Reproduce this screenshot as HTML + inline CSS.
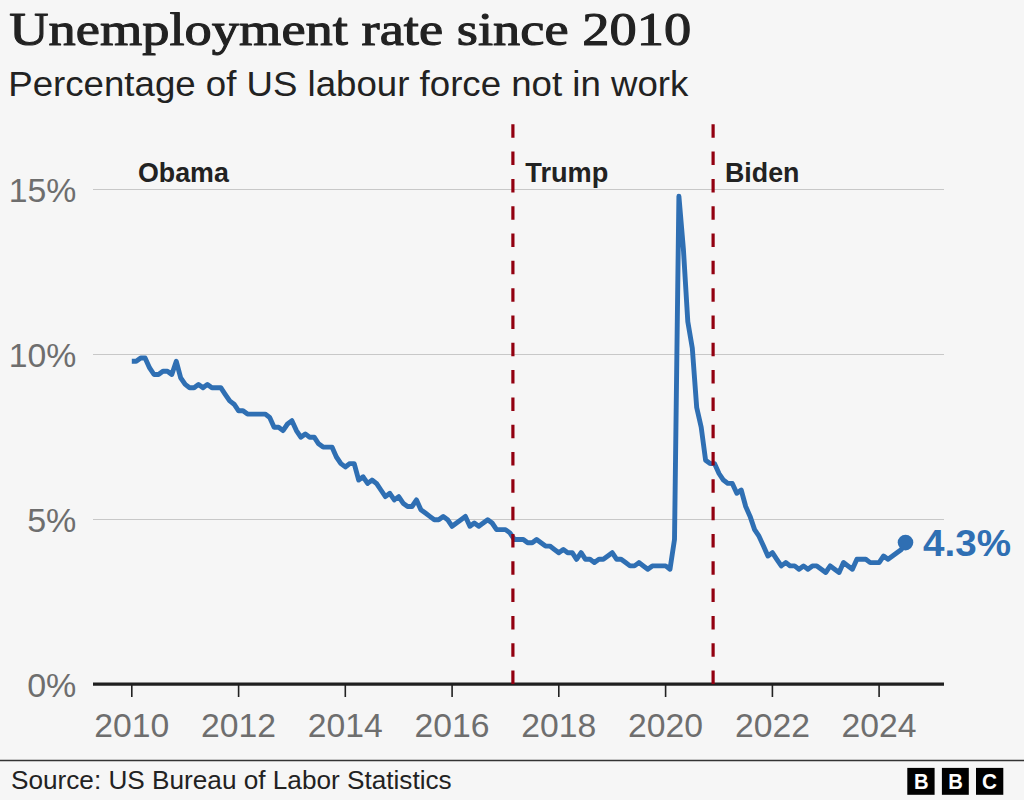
<!DOCTYPE html>
<html><head><meta charset="utf-8"><style>
html,body{margin:0;padding:0;background:#f6f6f6;}
svg{display:block;}
.sans{font-family:"Liberation Sans",sans-serif;}
.serif{font-family:"Liberation Serif",serif;}
</style></head><body>
<svg width="1024" height="800" viewBox="0 0 1024 800">
<rect x="0" y="0" width="1024" height="800" fill="#f6f6f6"/>
<text class="serif" x="9.2" y="45.2" font-size="46.5" font-weight="normal" fill="#222222" stroke="#222222" stroke-width="1.05" stroke-linejoin="round" textLength="682" lengthAdjust="spacingAndGlyphs">Unemployment rate since 2010</text>
<text class="sans" x="8.3" y="95.8" font-size="35.5" fill="#222222" textLength="680" lengthAdjust="spacingAndGlyphs">Percentage of US labour force not in work</text>
<g stroke="#c8c8c8" stroke-width="1.1">
<line x1="93" y1="189.5" x2="944" y2="189.5"/>
<line x1="93" y1="354.5" x2="944" y2="354.5"/>
<line x1="93" y1="519.5" x2="944" y2="519.5"/>
</g>
<g class="sans" font-size="33" fill="#6e6e6e" text-anchor="end">
<text x="76.4" y="201.8" textLength="67.6" lengthAdjust="spacingAndGlyphs">15%</text>
<text x="76.4" y="366.8" textLength="67.6" lengthAdjust="spacingAndGlyphs">10%</text>
<text x="76.4" y="531.8" textLength="49.2" lengthAdjust="spacingAndGlyphs">5%</text>
<text x="76.4" y="696.8" textLength="49.2" lengthAdjust="spacingAndGlyphs">0%</text>
</g>
<g stroke="#222222" stroke-width="1.6">
<line x1="131.8" y1="684" x2="131.8" y2="697"/>
<line x1="238.6" y1="684" x2="238.6" y2="697"/>
<line x1="345.3" y1="684" x2="345.3" y2="697"/>
<line x1="452.1" y1="684" x2="452.1" y2="697"/>
<line x1="558.8" y1="684" x2="558.8" y2="697"/>
<line x1="665.6" y1="684" x2="665.6" y2="697"/>
<line x1="772.4" y1="684" x2="772.4" y2="697"/>
<line x1="879.1" y1="684" x2="879.1" y2="697"/>
</g>
<g class="sans" font-size="33" fill="#6e6e6e" text-anchor="middle">
<text x="131.8" y="736.6" textLength="75" lengthAdjust="spacingAndGlyphs">2010</text>
<text x="238.6" y="736.6" textLength="75" lengthAdjust="spacingAndGlyphs">2012</text>
<text x="345.3" y="736.6" textLength="75" lengthAdjust="spacingAndGlyphs">2014</text>
<text x="452.1" y="736.6" textLength="75" lengthAdjust="spacingAndGlyphs">2016</text>
<text x="558.8" y="736.6" textLength="75" lengthAdjust="spacingAndGlyphs">2018</text>
<text x="665.6" y="736.6" textLength="75" lengthAdjust="spacingAndGlyphs">2020</text>
<text x="772.4" y="736.6" textLength="75" lengthAdjust="spacingAndGlyphs">2022</text>
<text x="879.1" y="736.6" textLength="75" lengthAdjust="spacingAndGlyphs">2024</text>
</g>
<g class="sans" font-size="27" font-weight="bold" fill="#222222">
<text x="138" y="181.7" textLength="90.8" lengthAdjust="spacingAndGlyphs">Obama</text>
<text x="525.3" y="182" textLength="83" lengthAdjust="spacingAndGlyphs">Trump</text>
<text x="725" y="181.7" textLength="74.4" lengthAdjust="spacingAndGlyphs">Biden</text>
</g>
<line x1="93" y1="684.2" x2="944" y2="684.2" stroke="#1f1f1f" stroke-width="3.2"/>
<path d="M131.8,361.3 L136.2,361.3 L140.7,358.0 L145.1,358.0 L149.6,367.9 L154.0,374.5 L158.5,374.5 L162.9,371.2 L167.4,371.2 L171.8,374.5 L176.3,361.3 L180.7,377.8 L185.2,384.4 L189.6,387.7 L194.1,387.7 L198.5,384.4 L203.0,387.7 L207.4,384.4 L211.9,387.7 L216.3,387.7 L220.8,387.7 L225.2,394.3 L229.7,400.9 L234.1,404.2 L238.6,410.8 L243.0,410.8 L247.5,414.1 L251.9,414.1 L256.4,414.1 L260.8,414.1 L265.2,414.1 L269.7,417.4 L274.1,427.3 L278.6,427.3 L283.0,430.6 L287.5,424.0 L291.9,420.7 L296.4,430.6 L300.8,437.2 L305.3,433.9 L309.7,437.2 L314.2,437.2 L318.6,443.8 L323.1,447.1 L327.5,447.1 L332.0,447.1 L336.4,457.0 L340.9,463.6 L345.3,466.9 L349.8,463.6 L354.2,463.6 L358.7,480.1 L363.1,476.8 L367.6,483.4 L372.0,480.1 L376.5,483.4 L380.9,490.0 L385.4,496.6 L389.8,493.3 L394.3,499.9 L398.7,496.6 L403.1,503.2 L407.6,506.5 L412.0,506.5 L416.5,499.9 L420.9,509.8 L425.4,513.1 L429.8,516.4 L434.3,519.7 L438.7,519.7 L443.2,516.4 L447.6,519.7 L452.1,526.3 L456.5,523.0 L461.0,519.7 L465.4,516.4 L469.9,526.3 L474.3,523.0 L478.8,526.3 L483.2,523.0 L487.7,519.7 L492.1,523.0 L496.6,529.6 L501.0,529.6 L505.5,529.6 L509.9,532.9 L514.4,539.5 L518.8,539.5 L523.3,539.5 L527.7,542.8 L532.2,542.8 L536.6,539.5 L541.0,542.8 L545.5,546.1 L549.9,546.1 L554.4,549.4 L558.8,552.7 L563.3,549.4 L567.7,552.7 L572.2,552.7 L576.6,559.3 L581.1,552.7 L585.5,559.3 L590.0,559.3 L594.4,562.6 L598.9,559.3 L603.3,559.3 L607.8,556.0 L612.2,552.7 L616.7,559.3 L621.1,559.3 L625.6,562.6 L630.0,565.9 L634.5,565.9 L638.9,562.6 L643.4,565.9 L647.8,569.2 L652.3,565.9 L656.7,565.9 L661.2,565.9 L665.6,565.9 L670.0,569.2 L674.5,539.5 L678.9,196.3 L683.4,249.1 L687.8,321.7 L692.3,348.1 L696.7,407.5 L701.2,427.3 L705.6,460.3 L710.1,463.6 L714.5,463.6 L719.0,473.5 L723.4,480.1 L727.9,483.4 L732.3,483.4 L736.8,493.3 L741.2,490.0 L745.7,506.5 L750.1,516.4 L754.6,529.6 L759.0,536.2 L763.5,546.1 L767.9,556.0 L772.4,552.7 L776.8,559.3 L781.3,565.9 L785.7,562.6 L790.2,565.9 L794.6,565.9 L799.0,569.2 L803.5,565.9 L807.9,569.2 L812.4,565.9 L816.8,565.9 L821.3,569.2 L825.7,572.5 L830.2,565.9 L834.6,569.2 L839.1,572.5 L843.5,562.6 L848.0,565.9 L852.4,569.2 L856.9,559.3 L861.3,559.3 L865.8,559.3 L870.2,562.6 L874.7,562.6 L879.1,562.6 L883.6,556.0 L888.0,559.3 L892.5,556.0 L896.9,552.7 L901.4,549.4 L905.8,542.8" fill="none" stroke="#2f6fb3" stroke-width="4.9" stroke-linejoin="round" stroke-linecap="butt"/>
<g stroke="#920010" stroke-width="3.2" stroke-dasharray="13.5 13.81">
<line x1="512.9" y1="684" x2="512.9" y2="124"/>
<line x1="713.1" y1="684" x2="713.1" y2="124"/>
</g>
<circle cx="905.5" cy="542.6" r="7.8" fill="#2f6fb3"/>
<text class="sans" x="923" y="556" font-size="37.5" font-weight="bold" fill="#2f6fb3" textLength="88" lengthAdjust="spacingAndGlyphs">4.3%</text>
<line x1="0" y1="760.5" x2="1024" y2="760.5" stroke="#333333" stroke-width="1.5"/>
<text class="sans" x="11" y="789.2" font-size="25.5" fill="#222222" textLength="440.7" lengthAdjust="spacingAndGlyphs">Source: US Bureau of Labor Statistics</text>
<g fill="#000000">
<rect x="907.3" y="767.9" width="27.3" height="26.9"/>
<rect x="941.9" y="767.9" width="26.9" height="26.9"/>
<rect x="976" y="767.9" width="27.3" height="26.9"/>
</g>
<g class="sans" font-size="22.2" font-weight="bold" fill="#ffffff" text-anchor="middle">
<text x="921.3" y="789.2" textLength="14.6" lengthAdjust="spacingAndGlyphs">B</text>
<text x="955.5" y="789.2" textLength="14.6" lengthAdjust="spacingAndGlyphs">B</text>
<text x="989.6" y="789.2" textLength="15" lengthAdjust="spacingAndGlyphs">C</text>
</g>
</svg>
</body></html>
